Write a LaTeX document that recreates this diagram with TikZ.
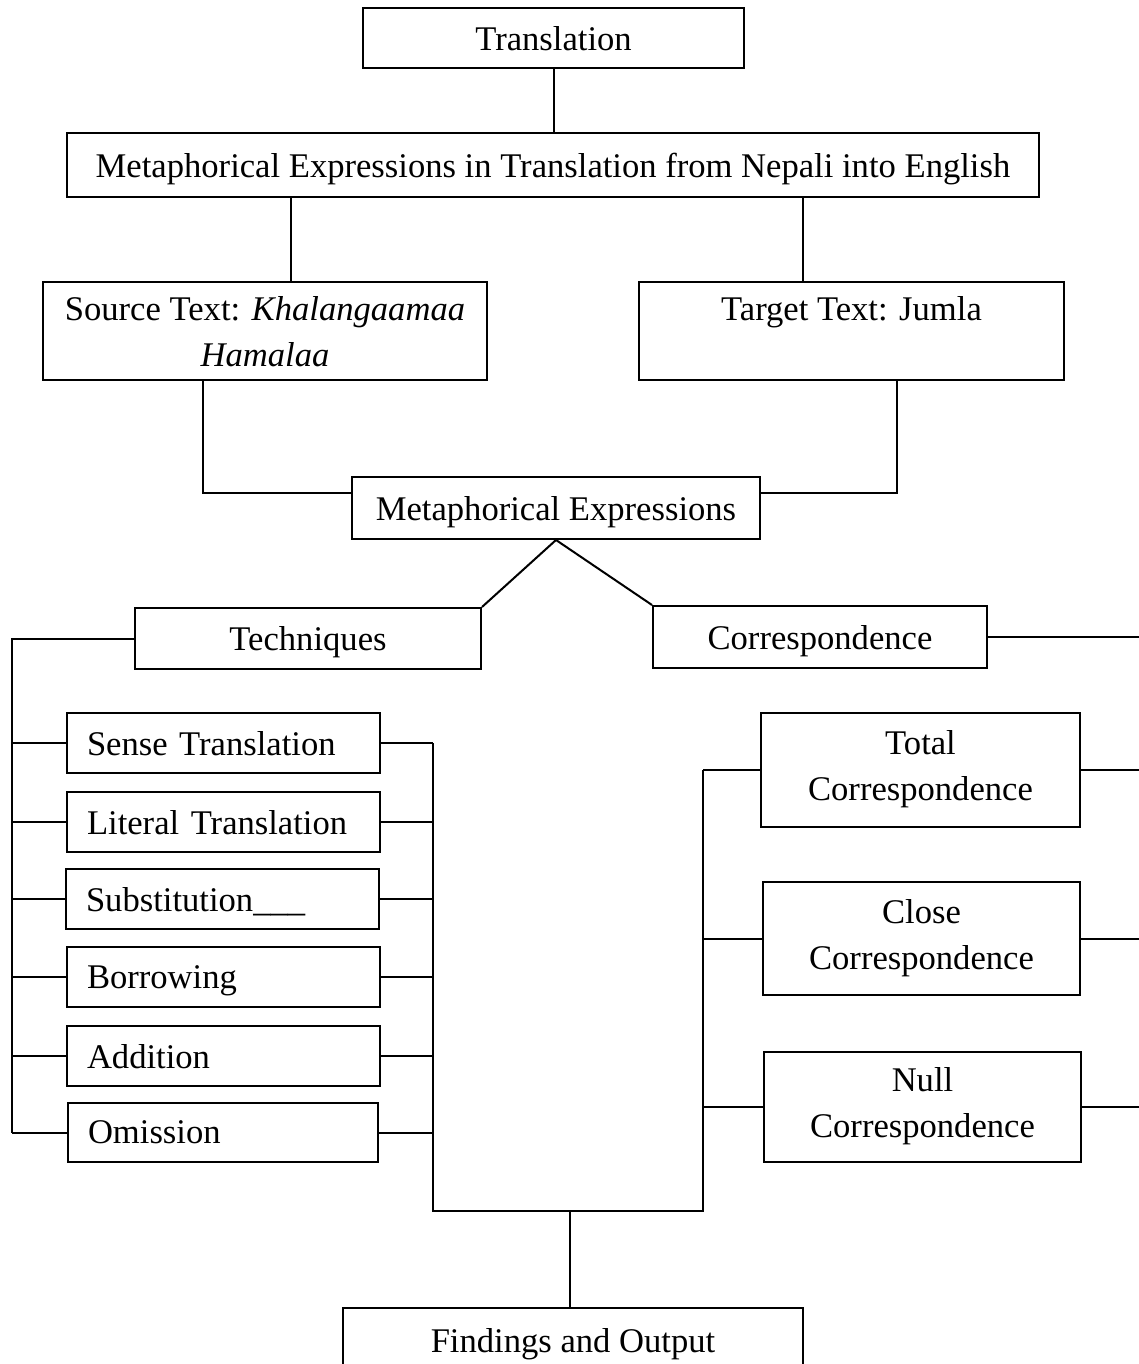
\documentclass[tikz,border=0pt]{standalone}
\usepackage{fontspec}
\setmainfont{Liberation Serif}
\usetikzlibrary{calc}
\newcommand{\fsz}{\fontsize{17.3}{23}\selectfont}
\begin{document}
\begin{tikzpicture}[x=0.5pt,y=-0.5pt,
  box/.style={draw, line width=1pt, inner sep=0pt, font=\fsz, align=center, text depth=0pt},
  item/.style={box, minimum width=156.5pt, minimum height=30pt, text width=136.5pt, inner xsep=10pt, align=left},
  twobox/.style={box, text depth=4.5pt},
  conn/.style={line width=1pt}]
\path[use as bounding box, clip] (0,0) rectangle (1139,1364);

% nodes
\node[box, minimum width=190.5pt, minimum height=30pt] (tr) at (553.5,38) {Translation};
\node[box, minimum width=486pt, minimum height=32pt] (met) at (553,165) {Metaphorical Expressions in Translation from Nepali into English};
\node[box, minimum width=222pt, minimum height=49pt, text depth=-5pt] (src) at (265,331) {Source Text: \textit{Khalangaamaa}\\\textit{Hamalaa}};
\node[box, minimum width=212.5pt, minimum height=49pt, text depth=-5pt] (tgt) at (851.5,331) {Target Text: Jumla\\\mbox{}};
\node[box, minimum width=204pt, minimum height=31pt] (mex) at (556,508) {Metaphorical Expressions};
\node[box, minimum width=173pt, minimum height=30.5pt] (tech) at (308,638.5) {Techniques};
\node[box, minimum width=167pt, minimum height=31pt] (corr) at (820,637) {Correspondence};

\node[item] (st) at (223.5,743) {Sense Translation};
\node[item] (lt) at (223.5,822) {Literal Translation};
\node[item] (sub) at (222.5,899) {Substitution\_\_\_};
\node[item] (bor) at (223.5,977) {Borrowing};
\node[item] (add) at (223.5,1056) {Addition};
\node[item, minimum width=155pt, minimum height=29.5pt, text width=135pt] (om) at (223,1132.5) {Omission};

\node[twobox, minimum width=159.5pt, minimum height=57pt] (tot) at (920.5,770) {Total\\Correspondence};
\node[twobox, minimum width=158.5pt, minimum height=56.5pt] (clo) at (921.5,938.5) {Close\\Correspondence};
\node[twobox, minimum width=158.5pt, minimum height=55pt] (nul) at (922.5,1107) {Null\\Correspondence};

\node[box, minimum width=230pt, minimum height=32pt] (find) at (573,1340) {Findings and Output};

% helper coordinates
\coordinate (xa) at (291,0);
\coordinate (xb) at (803,0);
\coordinate (xc) at (203,493);
\coordinate (xd) at (897,493);
\coordinate (xl) at (12,0);
\coordinate (xr) at (433,0);
\coordinate (xm) at (703,0);
\coordinate (xe) at (1141,0);
\coordinate (yb) at (0,1211);
\coordinate (xf) at (570,1211);

% connectors
\draw[conn] (tr.south) -- (tr.south |- met.north);
\draw[conn] (met.south -| xa) -- (src.north -| xa);
\draw[conn] (met.south -| xb) -- (tgt.north -| xb);
\draw[conn] (src.south -| xc) -- (xc) -- (xc -| mex.west);
\draw[conn] (tgt.south -| xd) -- (xd) -- (xd -| mex.east);
\draw[conn] (tech.north east) -- (mex.south) -- (corr.north west);

\draw[conn] (tech.west) -- (tech.west -| xl) -- (om.west -| xl);
\foreach \n in {st,lt,sub,bor,add,om}{
  \draw[conn] (\n.west) -- (\n.west -| xl);
  \draw[conn] (\n.east) -- (\n.east -| xr);
}
\draw[conn] (st.east -| xr) -- (xr |- yb) -- (xm |- yb) -- (tot.west -| xm);
\foreach \n in {tot,clo,nul}{
  \draw[conn] (\n.west) -- (\n.west -| xm);
  \draw[conn] (\n.east) -- (\n.east -| xe);
}
\draw[conn] (corr.east) -- (corr.east -| xe);
\draw[conn] (xf) -- (xf |- find.north);
\end{tikzpicture}
\end{document}
